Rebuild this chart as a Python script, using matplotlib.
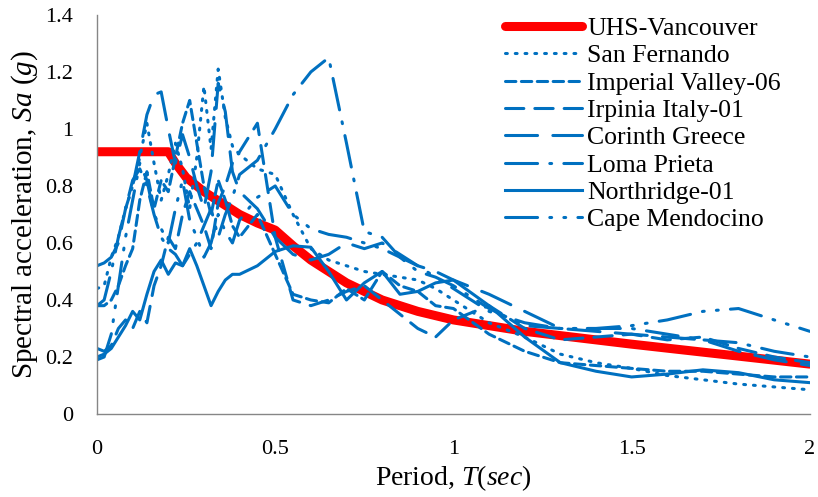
import matplotlib
matplotlib.use("Agg")
import matplotlib.pyplot as plt
from matplotlib.ticker import FuncFormatter

plt.rcParams['font.family'] = ['Liberation Serif', 'DejaVu Serif']
plt.rcParams['mathtext.fontset'] = 'custom'
plt.rcParams['mathtext.rm'] = 'Liberation Serif'
plt.rcParams['mathtext.it'] = 'Liberation Serif:italic'

# Uniform hazard spectrum (design target)
uhs_period = [0, 0.2, 0.22, 0.25, 0.3, 0.35, 0.4, 0.45, 0.5, 0.55, 0.6, 0.7, 0.8,
              0.9, 1.0, 1.2, 1.5, 1.75, 2.0]
uhs_sa = [0.92, 0.92, 0.88, 0.83, 0.78, 0.74, 0.70, 0.67, 0.645, 0.59, 0.54, 0.46,
          0.40, 0.36, 0.33, 0.29, 0.245, 0.21, 0.175]

# Scaled ground-motion spectra
period = [0, 0.02, 0.04, 0.06, 0.08, 0.10, 0.12, 0.14, 0.16, 0.18, 0.20, 0.22, 0.24,
          0.26, 0.28, 0.30, 0.32, 0.34, 0.36, 0.38, 0.40, 0.45, 0.50, 0.55, 0.60,
          0.65, 0.70, 0.75, 0.80, 0.85, 0.90, 0.95, 1.00, 1.10, 1.20, 1.30, 1.40,
          1.50, 1.60, 1.70, 1.80, 1.90, 2.00]

san_fernando = [0.44, 0.45, 0.55, 0.62, 0.72, 0.80, 0.90, 1.02, 0.88, 0.75, 0.84,
                0.95, 0.86, 0.72, 0.90, 1.15, 0.93, 1.21, 1.04, 0.94, 0.91, 0.86,
                0.84, 0.70, 0.58, 0.54, 0.52, 0.50, 0.49, 0.48, 0.47, 0.44, 0.40,
                0.32, 0.27, 0.21, 0.18, 0.16, 0.135, 0.12, 0.105, 0.095, 0.085]
imperial_valley = [0.38, 0.38, 0.40, 0.45, 0.52, 0.58, 0.75, 0.85, 0.72, 0.82, 0.78,
                   0.90, 1.02, 1.10, 0.95, 0.80, 0.70, 0.82, 0.75, 0.66, 0.62, 0.70,
                   0.56, 0.42, 0.40, 0.39, 0.44, 0.40, 0.50, 0.45, 0.43, 0.38, 0.37,
                   0.28, 0.22, 0.18, 0.17, 0.16, 0.15, 0.15, 0.14, 0.13, 0.13]
irpinia = [0.23, 0.22, 0.24, 0.30, 0.33, 0.30, 0.36, 0.32, 0.45, 0.52, 0.62, 0.58,
           0.70, 0.78, 0.72, 0.66, 0.58, 0.74, 0.80, 0.88, 0.92, 1.02, 0.62, 0.40,
           0.38, 0.40, 0.43, 0.45, 0.40, 0.35, 0.30, 0.27, 0.33, 0.38, 0.30, 0.26,
           0.27, 0.28, 0.26, 0.27, 0.23, 0.20, 0.18]
corinth = [0.52, 0.53, 0.55, 0.60, 0.72, 0.80, 0.92, 1.05, 1.12, 1.13, 1.00, 0.88,
           0.98, 0.90, 0.80, 0.72, 0.85, 1.16, 1.06, 0.85, 0.78, 0.72, 0.62, 0.56,
           0.54, 0.56, 0.60, 0.58, 0.60, 0.56, 0.52, 0.50, 0.47, 0.42, 0.36, 0.30,
           0.29, 0.28, 0.27, 0.26, 0.22, 0.19, 0.17]
loma_prieta = [0.38, 0.40, 0.50, 0.62, 0.72, 0.82, 0.86, 0.80, 0.70, 0.62, 0.58, 0.56,
               0.52, 0.56, 0.60, 0.66, 0.72, 0.62, 0.70, 0.76, 0.84, 0.89, 1.00, 1.12,
               1.20, 1.25, 0.95, 0.64, 0.62, 0.55, 0.50, 0.48, 0.45, 0.37, 0.31, 0.30,
               0.30, 0.30, 0.28, 0.26, 0.25, 0.22, 0.20]
northridge = [0.20, 0.21, 0.23, 0.27, 0.31, 0.36, 0.33, 0.42, 0.50, 0.54, 0.49, 0.53,
              0.52, 0.58, 0.52, 0.45, 0.38, 0.43, 0.47, 0.49, 0.49, 0.52, 0.57, 0.59,
              0.585, 0.50, 0.40, 0.46, 0.50, 0.42, 0.43, 0.46, 0.47, 0.38, 0.27, 0.18,
              0.15, 0.13, 0.14, 0.155, 0.145, 0.12, 0.11]
cape_mendocino = [0.19, 0.20, 0.28, 0.45, 0.62, 0.75, 0.88, 0.82, 0.70, 0.65, 0.60,
                  0.72, 0.82, 0.68, 0.62, 0.55, 0.60, 0.70, 0.64, 0.60, 0.68, 0.76,
                  0.80, 0.70, 0.65, 0.63, 0.62, 0.60, 0.58, 0.55, 0.52, 0.48, 0.44,
                  0.36, 0.32, 0.30, 0.30, 0.31, 0.33, 0.36, 0.37, 0.33, 0.29]

blue = '#0070C0'

fig = plt.figure(figsize=(8.18, 4.97), dpi=100)
ax = fig.add_axes([0.1186, 0.167, 0.8714, 0.803])

ax.plot(uhs_period, uhs_sa, color='#FF0000', lw=6.5, solid_capstyle='round',
        label='UHS-Vancouver')

records = [
    (san_fernando, 'San Fernando', (0, (0.6, 2.6))),
    (imperial_valley, 'Imperial Valley-06', (0, (3.4, 1.8))),
    (irpinia, 'Irpinia Italy-01', (0, (6.0, 3.6))),
    (corinth, 'Corinth Greece', (0, (10.5, 5.0))),
    (loma_prieta, 'Loma Prieta', (0, (10.5, 4.0, 0.6, 4.0))),
    (northridge, 'Northridge-01', '-'),
    (cape_mendocino, 'Cape Mendocino', (0, (10.5, 4.0, 0.6, 4.0, 0.6, 4.0))),
]
for sa, name, ls in records:
    ax.plot(period, sa, color=blue, lw=2.2, linestyle=ls,
            dash_capstyle='round', solid_joinstyle='round', label=name)

ax.set_xlim(0, 2)
ax.set_ylim(0, 1.4)
ax.set_xticks([0, 0.5, 1, 1.5, 2])
ax.set_yticks([0, 0.2, 0.4, 0.6, 0.8, 1.0, 1.2, 1.4])
fmt = FuncFormatter(lambda v, p: ('%g' % round(v, 2)))
ax.xaxis.set_major_formatter(fmt)
ax.yaxis.set_major_formatter(fmt)
ax.tick_params(axis='y', length=0, labelsize=16, pad=17)
ax.tick_params(axis='x', length=0, labelsize=16, pad=19)

for side in ('top', 'right'):
    ax.spines[side].set_visible(False)
for side in ('left', 'bottom'):
    ax.spines[side].set_color('#868686')
    ax.spines[side].set_linewidth(1.0)

ax.set_xlabel(r'Period, $\mathit{T(sec)}$', fontsize=20, labelpad=3)
ax.set_ylabel(r'Spectral acceleration, $\mathit{Sa\ (g)}$', fontsize=21, labelpad=4)

ax.legend(loc='upper left', bbox_to_anchor=(0.617, 0.966), bbox_transform=fig.transFigure,
          frameon=False, fontsize=18.5, handlelength=3.0, handletextpad=0.2,
          labelspacing=0.17, borderaxespad=0, borderpad=0)

fig.savefig('out.png', dpi=100)
